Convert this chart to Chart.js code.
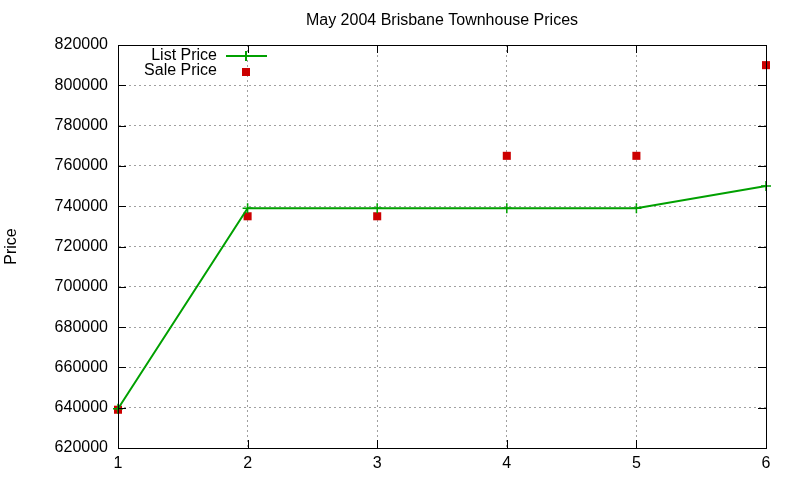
<!DOCTYPE html>
<html>
<head>
<meta charset="utf-8">
<script src="https://cdn.jsdelivr.net/npm/chart.js@4"></script>
<style>
  html, body { margin: 0; padding: 0; background: #fff; }
  #wrap { width: 800px; height: 480px; }
</style>
</head>
<body>
<div id="wrap"><canvas id="chart-prices"></canvas></div>
<script>
const houseLabels = ['1', '2', '3', '4', '5', '6']
const listPrices = [639500, 739000, 739000, 739000, 739000, 750000]
const salePrices = [639000, 735000, 735000, 765000, 765000, 810000]
const yTicks = [620000, 640000, 660000, 680000, 700000, 720000, 740000, 760000, 780000, 800000, 820000]
const chartTitle = 'May 2004 Brisbane Townhouse Prices'

const FONT = 'Liberation Sans, Arial, sans-serif'

// gnuplot style inner tick marks on all four sides
const innerTicks = {
  id: 'innerTicks',
  afterDraw(chart) {
    const { ctx, chartArea: a, scales } = chart
    ctx.save()
    ctx.strokeStyle = '#000'
    ctx.lineWidth = 1
    ctx.beginPath()
    yTicks.forEach(v => {
      const y = Math.round(scales.y.getPixelForValue(v)) + 0.5
      ctx.moveTo(a.left, y); ctx.lineTo(a.left + 8, y)
      ctx.moveTo(a.right, y); ctx.lineTo(a.right - 8, y)
    })
    houseLabels.forEach((l, i) => {
      const x = Math.round(scales.x.getPixelForValue(i)) + 0.5
      ctx.moveTo(x, a.bottom); ctx.lineTo(x, a.bottom - 8)
      ctx.moveTo(x, a.top); ctx.lineTo(x, a.top + 8)
    })
    ctx.stroke()
    ctx.strokeRect(Math.round(a.left) + 0.5, Math.round(a.top) + 0.5,
      Math.round(a.right - a.left), Math.round(a.bottom - a.top))
    ctx.restore()
  }
}

// title centred over the plot area, legend top-left with text right-aligned
const gnuText = {
  id: 'gnuText',
  afterDraw(chart) {
    const { ctx, chartArea: a } = chart
    const ds = chart.data.datasets
    ctx.save()
    ctx.fillStyle = '#000'
    ctx.textBaseline = 'middle'
    ctx.textAlign = 'center'
    ctx.font = '16px ' + FONT
    ctx.fillText(chartTitle, (a.left + a.right) / 2, 21)
    ctx.textAlign = 'right'
    ctx.fillText(ds[0].label, 217, 56)
    ctx.fillText(ds[1].label, 217, 71)
    ctx.strokeStyle = ds[0].borderColor
    ctx.lineWidth = 2
    ctx.beginPath()
    ctx.moveTo(226, 56); ctx.lineTo(267, 56)
    ctx.moveTo(246, 51); ctx.lineTo(246, 61)
    ctx.stroke()
    ctx.fillStyle = ds[1].backgroundColor
    ctx.fillRect(242, 68, 8, 8)
    ctx.restore()
  }
}

const ctx = document.getElementById('chart-prices').getContext('2d')

const data = {
  labels: houseLabels,
  datasets: [
    {
      label: 'List Price',
      data: listPrices,
      borderColor: '#00a000',
      backgroundColor: '#00a000',
      borderWidth: 2,
      pointStyle: 'cross',
      pointRadius: 5,
      pointBorderWidth: 1.5,
      tension: 0,
      clip: false,
    },
    {
      label: 'Sale Price',
      data: salePrices,
      borderColor: '#cc0000',
      backgroundColor: '#cc0000',
      showLine: false,
      pointStyle: 'rect',
      pointRadius: 5.7,
      pointBorderWidth: 0,
      clip: false,
    },
  ],
}

const config = {
  type: 'line',
  data: data,
  options: {
    responsive: true,
    maintainAspectRatio: false,
    animation: false,
    layout: { padding: { top: 45, right: 34, left: 0, bottom: 0 } },
    plugins: {
      legend: { display: false },
      tooltip: { enabled: false },
      title: { display: false },
    },
    scales: {
      x: {
        type: 'category',
        offset: false,
        grid: { color: '#a0a0a0', drawTicks: false },
        border: { color: '#000', width: 1, dash: [2, 3] },
        ticks: { color: '#000', font: { family: FONT, size: 16 }, padding: 6, maxRotation: 0 },
        afterFit(scale) { scale.height = 32 },
      },
      y: {
        min: 620000,
        max: 820000,
        grid: { color: '#a0a0a0', drawTicks: false },
        border: { color: '#000', width: 1, dash: [2, 3] },
        afterBuildTicks(scale) { scale.ticks = yTicks.map(v => ({ value: v })) },
        ticks: {
          color: '#000',
          font: { family: FONT, size: 16 },
          padding: 10,
          callback: v => String(v),
        },
        title: {
          display: true,
          text: 'Price',
          color: '#000',
          font: { family: FONT, size: 16 },
          padding: { top: 2, bottom: 0 },
        },
        afterFit(scale) { scale.width = 118 },
      },
    },
  },
  plugins: [innerTicks, gnuText],
}

const myChart = new Chart(ctx, config)
</script>
</body>
</html>
